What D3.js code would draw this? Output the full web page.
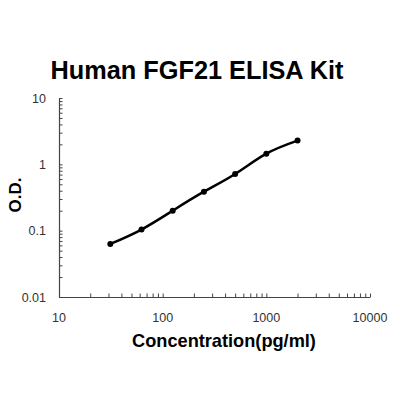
<!DOCTYPE html>
<html>
<head>
<meta charset="utf-8">
<script src="https://cdn.jsdelivr.net/npm/d3@7"></script>
<style>
  body { margin: 0; background: #fff; }
  text { font-family: "Liberation Sans", Arial, sans-serif; }
</style>
</head>
<body>
<script>
// standard curve data
var conc = [31.25, 62.5, 125, 250, 500, 1000, 2000];
var od = [0.063, 0.104, 0.2, 0.387, 0.716, 1.45, 2.28];
var xTicks = [10, 100, 1000, 10000];
var yTicks = [0.01, 0.1, 1, 10];

var svg = d3.select("body")
  .append("svg")
  .attr("width", 400)
  .attr("height", 400);

var x = d3.scaleLog().domain([10, 10000]).range([59, 370]);
var y = d3.scaleLog().domain([0.01, 10]).range([297, 98]);

// minor ticks (all ticks inward)
var xMinor = [];
var yMinor = [];
[10, 100, 1000].forEach(function(d) {
  for (var i = 2; i <= 9; i++) xMinor.push(d * i);
});
[0.01, 0.1, 1].forEach(function(d) {
  for (var i = 2; i <= 9; i++) yMinor.push(d * i);
});

var xAxis = d3.axisBottom(x).tickValues(xTicks.concat(xMinor)).tickSize(0).tickFormat("");
var yAxis = d3.axisLeft(y).tickValues(yTicks.concat(yMinor)).tickSize(0).tickFormat("");

var gx = svg.append("g")
  .attr("transform", "translate(0,297)")
  .call(xAxis);
gx.select(".domain").attr("stroke", "#444").attr("stroke-width", 1.2);
gx.selectAll(".tick line").attr("y2", -3.5).attr("stroke", "#444");

var gy = svg.append("g")
  .attr("transform", "translate(59,0)")
  .call(yAxis);
gy.select(".domain").attr("stroke", "#444").attr("stroke-width", 1.2);
gy.selectAll(".tick line").attr("x2", 3.5).attr("stroke", "#444");

// tick labels
svg.selectAll(".xlab")
  .data(xTicks)
  .enter()
  .append("text")
  .attr("x", d => x(d))
  .attr("y", 322)
  .attr("text-anchor", "middle")
  .style("font-size", "12.5px")
  .attr("fill", "#333")
  .text(d => d);

svg.selectAll(".ylab")
  .data(yTicks)
  .enter()
  .append("text")
  .attr("x", 46)
  .attr("y", d => y(d) + 4.5)
  .attr("text-anchor", "end")
  .style("font-size", "12.5px")
  .attr("fill", "#333")
  .text(d => d);

// curve
var line = d3.line()
  .x(d => x(d[0]))
  .y(d => y(d[1]))
  .curve(d3.curveNatural);

svg.append("path")
  .datum(conc.map((c, i) => [c, od[i]]))
  .attr("d", line)
  .attr("fill", "none")
  .attr("stroke", "#000")
  .attr("stroke-width", 2.5);

svg.selectAll(".pt")
  .data(conc)
  .enter()
  .append("circle")
  .attr("cx", d => x(d))
  .attr("cy", (d, i) => y(od[i]))
  .attr("r", 3)
  .attr("fill", "#000");

// titles
svg.append("text")
  .attr("x", 197)
  .attr("y", 79)
  .attr("text-anchor", "middle")
  .style("font-size", "25.3px")
  .style("font-weight", "bold")
  .text("Human FGF21 ELISA Kit");

svg.append("text")
  .attr("x", 224)
  .attr("y", 347)
  .attr("text-anchor", "middle")
  .style("font-size", "18.2px")
  .style("font-weight", "bold")
  .text("Concentration(pg/ml)");

svg.append("text")
  .attr("transform", "translate(21,195) rotate(-90)")
  .attr("text-anchor", "middle")
  .style("font-size", "17px")
  .style("font-weight", "bold")
  .text("O.D.");
</script>
</body>
</html>
